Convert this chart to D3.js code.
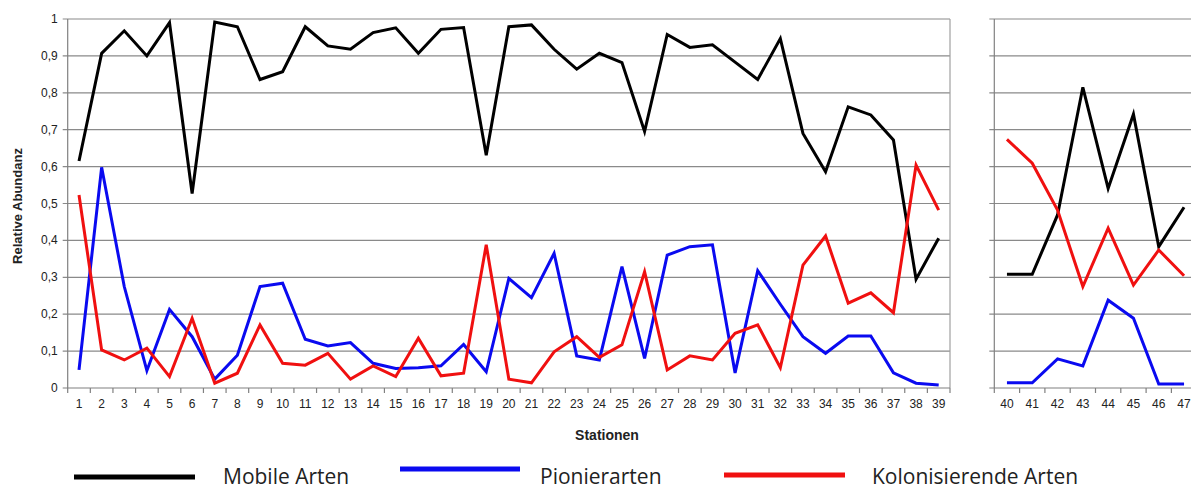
<!DOCTYPE html>
<html>
<head>
<meta charset="utf-8">
<script src="https://cdn.jsdelivr.net/npm/d3@7"></script>
<style>
  body { margin: 0; background: #fff; }
  svg { display: block; }
</style>
</head>
<body>
<svg id="chart"></svg>
<script>
// stations, split in two panels
const stationsA = d3.range(1, 40);
const stationsB = d3.range(40, 48);

const mobileA = [0.615, 0.907, 0.968, 0.90, 0.99, 0.527, 0.992, 0.979, 0.836, 0.857,
  0.979, 0.927, 0.918, 0.963, 0.976, 0.907, 0.972, 0.977, 0.631, 0.979,
  0.984, 0.918, 0.864, 0.907, 0.882, 0.695, 0.958, 0.923, 0.930, 0.883,
  0.836, 0.947, 0.690, 0.586, 0.762, 0.740, 0.672, 0.295, 0.406];
const pionierA = [0.049, 0.598, 0.275, 0.047, 0.213, 0.139, 0.024, 0.089, 0.275, 0.284,
  0.132, 0.114, 0.123, 0.067, 0.053, 0.055, 0.060, 0.118, 0.044, 0.297,
  0.245, 0.365, 0.087, 0.076, 0.329, 0.080, 0.360, 0.383, 0.388, 0.041,
  0.318, 0.227, 0.139, 0.094, 0.141, 0.141, 0.041, 0.013, 0.008];
const kolonA = [0.523, 0.103, 0.076, 0.108, 0.031, 0.189, 0.013, 0.040, 0.171, 0.067,
  0.062, 0.094, 0.024, 0.060, 0.031, 0.135, 0.033, 0.040, 0.388, 0.024,
  0.014, 0.098, 0.139, 0.083, 0.117, 0.315, 0.049, 0.087, 0.076, 0.148,
  0.171, 0.055, 0.333, 0.412, 0.230, 0.258, 0.204, 0.604, 0.482];

const mobileB = [0.308, 0.308, 0.469, 0.815, 0.541, 0.742, 0.383, 0.490];
const pionierB = [0.014, 0.014, 0.079, 0.060, 0.238, 0.189, 0.011, 0.011];
const kolonB = [0.674, 0.609, 0.482, 0.275, 0.433, 0.279, 0.374, 0.304];

const yTicks = d3.range(0, 11).map(d => d / 10);
const seriesNames = ["Mobile Arten", "Pionierarten", "Kolonisierende Arten"];
const seriesColors = ["#000000", "#0a0af0", "#f01010"];

var width = 1191;
var height = 489;
var plotTop = 19, plotBottom = 388;

var svg = d3.select("#chart").attr("width", width).attr("height", height);

var y = d3.scaleLinear().domain([0, 1]).range([plotBottom, plotTop]);

var panels = [
  {stations: stationsA, series: [mobileA, pionierA, kolonA], x0: 67.7, x1: 950, labels: true},
  {stations: stationsB, series: [mobileB, pionierB, kolonB], x0: 994.3, x1: 1196.7, labels: false}
];

panels.forEach(p => {
  let x = d3.scaleBand().domain(p.stations).range([p.x0, p.x1]).padding(0);
  let g = svg.append("g");

  // horizontal gridlines
  g.selectAll("line.grid")
    .data(yTicks.filter(d => d > 0))
    .enter().append("line")
    .attr("x1", p.x0 - 5).attr("x2", p.x1)
    .attr("y1", d => y(d)).attr("y2", d => y(d))
    .attr("stroke", "#8a8a8a").attr("stroke-width", 1.2);

  // right frame
  g.append("line")
    .attr("x1", p.x1).attr("x2", p.x1).attr("y1", plotTop).attr("y2", plotBottom)
    .attr("stroke", "#a0a0a0").attr("stroke-width", 1.2);

  // y axis line
  g.append("line")
    .attr("x1", p.x0).attr("x2", p.x0).attr("y1", plotTop).attr("y2", plotBottom)
    .attr("stroke", "#808080").attr("stroke-width", 1.2);

  // x axis line and ticks at band edges
  g.append("line")
    .attr("x1", p.x0 - 5).attr("x2", p.x1).attr("y1", plotBottom).attr("y2", plotBottom)
    .attr("stroke", "#808080").attr("stroke-width", 1.2);
  g.selectAll("line.xt")
    .data(p.stations.concat(["end"]))
    .enter().append("line")
    .attr("x1", d => d === "end" ? p.x1 : x(d))
    .attr("x2", d => d === "end" ? p.x1 : x(d))
    .attr("y1", plotBottom).attr("y2", plotBottom + 5)
    .attr("stroke", "#808080").attr("stroke-width", 1.2);

  // x labels
  g.selectAll("text.xl")
    .data(p.stations)
    .enter().append("text")
    .attr("x", d => x(d) + x.bandwidth() / 2)
    .attr("y", plotBottom + 20)
    .attr("text-anchor", "middle")
    .attr("font-family", "'Liberation Sans', Arial, sans-serif")
    .attr("font-size", 12)
    .attr("fill", "#222")
    .text(d => d);

  if (p.labels) {
    g.selectAll("text.yl")
      .data(yTicks)
      .enter().append("text")
      .attr("x", p.x0 - 10)
      .attr("y", d => y(d) + 4)
      .attr("text-anchor", "end")
      .attr("font-family", "'Liberation Sans', Arial, sans-serif")
      .attr("font-size", 12)
      .attr("fill", "#222")
      .text(d => d3.format("~g")(d).replace(".", ","));
  }

  // series lines
  p.series.forEach((vals, i) => {
    let line = d3.line()
      .x((d, j) => x(p.stations[j]) + x.bandwidth() / 2)
      .y(d => y(d));
    g.append("path")
      .datum(vals)
      .attr("d", line)
      .attr("fill", "none")
      .attr("stroke", seriesColors[i])
      .attr("stroke-width", 3)
      .attr("stroke-linejoin", "miter");
  });
});

// axis titles
svg.append("text")
  .attr("transform", "translate(22,206) rotate(-90)")
  .attr("text-anchor", "middle")
  .attr("font-family", "'Liberation Sans', Arial, sans-serif")
  .attr("font-weight", "bold")
  .attr("font-size", 13)
  .attr("fill", "#222")
  .text("Relative Abundanz");

svg.append("text")
  .attr("x", 607).attr("y", 440)
  .attr("text-anchor", "middle")
  .attr("font-family", "'Liberation Sans', Arial, sans-serif")
  .attr("font-weight", "bold")
  .attr("font-size", 14)
  .attr("fill", "#222")
  .text("Stationen");

// legend
var legendItems = [
  {x1: 74, x2: 195, ly: 477, tx: 223},
  {x1: 400, x2: 520, ly: 469, tx: 540},
  {x1: 724, x2: 845, ly: 475, tx: 872}
];
legendItems.forEach((l, i) => {
  svg.append("line")
    .attr("x1", l.x1).attr("x2", l.x2).attr("y1", l.ly).attr("y2", l.ly)
    .attr("stroke", seriesColors[i]).attr("stroke-width", 5);
  svg.append("text")
    .attr("x", l.tx).attr("y", 484)
    .attr("font-family", "'Open Sans', sans-serif")
    .attr("font-size", 21)
    .attr("fill", "#222")
    .text(seriesNames[i]);
});
</script>
</body>
</html>
